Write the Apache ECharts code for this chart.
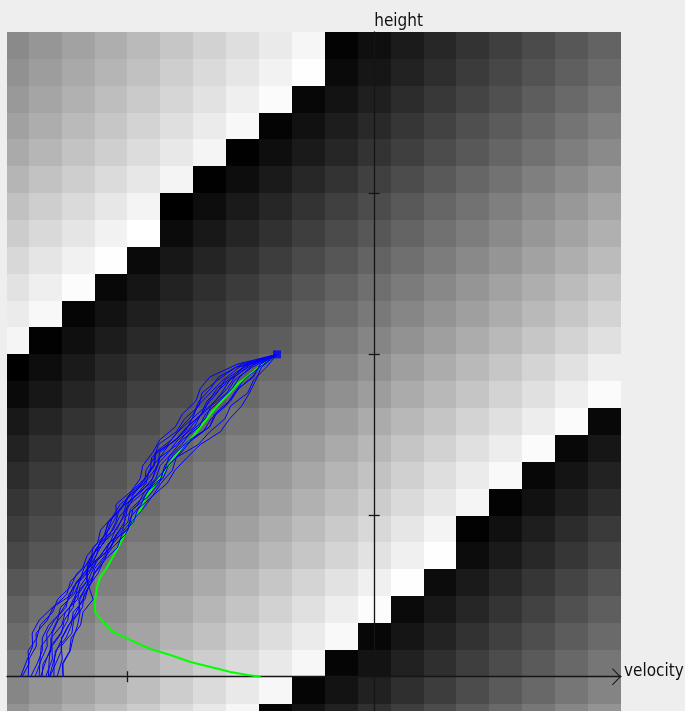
<!DOCTYPE html>
<html>
<head>
<meta charset="utf-8">
<script src="https://cdn.jsdelivr.net/npm/echarts@6/dist/echarts.min.js"></script>
<style>
  html, body { margin: 0; padding: 0; background: #eeeeee; }
  #chart { width: 685px; height: 711px; }
</style>
</head>
<body>
<div id="chart"></div>
<script>
// Cell centres of the value grid (velocity across, height down the page)
const velocityBins = [-1.4667, -1.3333, -1.2, -1.0667, -0.9333, -0.8, -0.6667, -0.5333, -0.4, -0.2667,
  -0.1333, 0, 0.1333, 0.2667, 0.4, 0.5333, 0.6667, 0.8, 0.9333];
const heightBins = [3.9167, 3.75, 3.5833, 3.4167, 3.25, 3.0833, 2.9167, 2.75, 2.5833, 2.4167, 2.25, 2.0833,
  1.9167, 1.75, 1.5833, 1.4167, 1.25, 1.0833, 0.9167, 0.75, 0.5833, 0.4167, 0.25, 0.0833, -0.0833, -0.25];

// Grey level (0 black .. 255 white) of every cell, one row per height bin
const levels = [
  [138, 150, 162, 174, 186, 198, 210, 222, 234, 246, 3, 15, 27, 39, 51, 63, 75, 87, 99],
  [145, 157, 169, 181, 193, 206, 218, 230, 242, 254, 10, 22, 34, 46, 59, 71, 83, 95, 107],
  [153, 165, 177, 190, 202, 214, 226, 239, 251, 7, 19, 31, 44, 56, 68, 80, 93, 105, 117],
  [161, 173, 186, 198, 211, 223, 235, 248, 4, 17, 29, 41, 54, 66, 79, 91, 103, 116, 128],
  [170, 182, 195, 207, 220, 232, 245, 1, 14, 26, 38, 51, 63, 76, 88, 101, 113, 126, 138],
  [181, 194, 206, 219, 231, 244, 1, 13, 26, 39, 51, 64, 76, 89, 102, 114, 127, 139, 152],
  [193, 206, 218, 231, 244, 0, 13, 26, 38, 51, 64, 76, 89, 102, 114, 127, 140, 152, 165],
  [204, 217, 229, 242, 255, 11, 24, 37, 49, 62, 75, 87, 100, 113, 125, 138, 151, 163, 176],
  [216, 229, 241, 254, 10, 23, 36, 48, 61, 74, 86, 99, 111, 124, 137, 149, 162, 174, 187],
  [226, 239, 252, 8, 21, 34, 47, 59, 72, 85, 98, 111, 123, 136, 149, 162, 174, 187, 200],
  [235, 248, 5, 18, 31, 43, 56, 69, 82, 95, 108, 121, 134, 147, 159, 172, 185, 198, 211],
  [245, 2, 15, 28, 41, 54, 67, 80, 93, 107, 120, 133, 146, 159, 172, 185, 198, 211, 224],
  [0, 13, 26, 40, 53, 66, 79, 93, 106, 119, 132, 145, 159, 172, 185, 198, 212, 225, 238],
  [10, 23, 37, 50, 64, 77, 90, 104, 117, 131, 144, 157, 171, 184, 197, 211, 224, 238, 251],
  [24, 37, 51, 64, 77, 91, 104, 117, 131, 144, 157, 171, 184, 197, 211, 224, 237, 251, 8],
  [34, 48, 61, 75, 88, 102, 115, 129, 142, 156, 170, 183, 197, 210, 224, 237, 251, 8, 22],
  [44, 58, 71, 85, 99, 112, 126, 140, 153, 167, 181, 194, 208, 222, 235, 249, 7, 20, 34],
  [53, 67, 80, 94, 108, 122, 135, 149, 163, 177, 190, 204, 218, 231, 245, 3, 17, 30, 44],
  [62, 76, 90, 104, 118, 132, 146, 160, 174, 188, 202, 216, 230, 244, 2, 16, 30, 44, 58],
  [72, 86, 100, 114, 128, 142, 156, 170, 184, 198, 212, 226, 240, 254, 12, 26, 40, 54, 68],
  [86, 100, 114, 128, 142, 156, 170, 184, 198, 212, 226, 240, 254, 12, 26, 40, 54, 68, 82],
  [98, 112, 126, 140, 154, 168, 182, 196, 210, 224, 238, 252, 10, 24, 38, 52, 66, 80, 94],
  [108, 122, 136, 150, 164, 179, 193, 207, 221, 235, 249, 7, 21, 35, 50, 64, 78, 92, 106],
  [120, 134, 148, 162, 176, 191, 205, 219, 233, 247, 5, 19, 33, 47, 62, 76, 90, 104, 118],
  [134, 148, 162, 176, 190, 205, 219, 233, 247, 5, 19, 33, 47, 61, 76, 90, 104, 118, 132],
  [146, 160, 175, 189, 203, 218, 232, 246, 5, 19, 33, 48, 62, 76, 91, 105, 119, 134, 148]
];

// Tick positions on the two axes
const velocityTicks = [-1];
const heightTicks = [1, 2, 3];

// Start state shared by every run
const startState = [-0.394, 2.0];

// Sampled runs, [velocity, height]
const run1 = [[-1.427, 0], [-1.399, 0.08], [-1.403, 0.16], [-1.367, 0.24], [-1.353, 0.32], [-1.303, 0.40], [-1.283, 0.48], [-1.229, 0.56], [-1.205, 0.64], [-1.148, 0.72], [-1.140, 0.80], [-1.090, 0.88], [-1.079, 0.96], [-1.029, 1.04], [-0.995, 1.12], [-0.930, 1.20], [-0.925, 1.28], [-0.891, 1.36], [-0.875, 1.44], [-0.802, 1.52], [-0.768, 1.60], [-0.710, 1.68], [-0.698, 1.76], [-0.635, 1.84], [-0.560, 1.92], [-0.394, 2.0]];
const run2 = [[-1.402, 0], [-1.399, 0.11], [-1.369, 0.19], [-1.370, 0.27], [-1.325, 0.35], [-1.301, 0.43], [-1.246, 0.51], [-1.231, 0.59], [-1.182, 0.67], [-1.164, 0.75], [-1.121, 0.83], [-1.109, 0.91], [-1.061, 0.99], [-1.029, 1.07], [-0.964, 1.15], [-0.930, 1.23], [-0.894, 1.31], [-0.888, 1.39], [-0.822, 1.47], [-0.781, 1.55], [-0.733, 1.63], [-0.710, 1.71], [-0.662, 1.79], [-0.631, 1.86], [-0.537, 1.94], [-0.394, 2.0]];
const run3 = [[-1.392, 0], [-1.366, 0.08], [-1.345, 0.16], [-1.345, 0.24], [-1.319, 0.32], [-1.269, 0.40], [-1.239, 0.48], [-1.219, 0.56], [-1.168, 0.64], [-1.150, 0.72], [-1.125, 0.80], [-1.072, 0.88], [-1.047, 0.96], [-1.033, 1.04], [-0.968, 1.12], [-0.924, 1.20], [-0.912, 1.28], [-0.869, 1.36], [-0.831, 1.44], [-0.766, 1.52], [-0.738, 1.60], [-0.681, 1.68], [-0.637, 1.76], [-0.605, 1.84], [-0.530, 1.92], [-0.394, 2.0]];
const run4 = [[-1.358, 0], [-1.354, 0.11], [-1.349, 0.19], [-1.309, 0.27], [-1.284, 0.35], [-1.271, 0.43], [-1.217, 0.51], [-1.194, 0.59], [-1.177, 0.67], [-1.146, 0.75], [-1.095, 0.83], [-1.079, 0.91], [-1.060, 0.99], [-1.010, 1.07], [-0.984, 1.15], [-0.928, 1.23], [-0.891, 1.31], [-0.884, 1.39], [-0.801, 1.47], [-0.756, 1.55], [-0.701, 1.63], [-0.678, 1.71], [-0.622, 1.79], [-0.571, 1.86], [-0.519, 1.94], [-0.394, 2.0]];
const run5 = [[-1.346, 0], [-1.342, 0.08], [-1.310, 0.16], [-1.310, 0.24], [-1.266, 0.32], [-1.252, 0.40], [-1.202, 0.48], [-1.192, 0.56], [-1.156, 0.64], [-1.125, 0.72], [-1.069, 0.80], [-1.047, 0.88], [-0.998, 0.96], [-0.988, 1.04], [-0.930, 1.12], [-0.897, 1.20], [-0.850, 1.28], [-0.832, 1.36], [-0.780, 1.44], [-0.743, 1.52], [-0.685, 1.60], [-0.661, 1.68], [-0.597, 1.76], [-0.566, 1.84], [-0.495, 1.92], [-0.394, 2.0]];
const run6 = [[-1.320, 0], [-1.317, 0.11], [-1.310, 0.19], [-1.271, 0.27], [-1.242, 0.35], [-1.234, 0.43], [-1.200, 0.51], [-1.165, 0.59], [-1.162, 0.67], [-1.111, 0.75], [-1.070, 0.83], [-1.050, 0.91], [-1.015, 0.99], [-0.997, 1.07], [-0.969, 1.15], [-0.915, 1.23], [-0.877, 1.31], [-0.870, 1.39], [-0.805, 1.47], [-0.759, 1.55], [-0.696, 1.63], [-0.671, 1.71], [-0.636, 1.79], [-0.575, 1.86], [-0.510, 1.94], [-0.394, 2.0]];
const run7 = [[-1.314, 0], [-1.291, 0.08], [-1.268, 0.16], [-1.267, 0.24], [-1.239, 0.32], [-1.198, 0.40], [-1.192, 0.48], [-1.166, 0.56], [-1.133, 0.64], [-1.093, 0.72], [-1.074, 0.80], [-1.029, 0.88], [-0.988, 0.96], [-0.978, 1.04], [-0.914, 1.12], [-0.872, 1.20], [-0.853, 1.28], [-0.804, 1.36], [-0.763, 1.44], [-0.693, 1.52], [-0.661, 1.60], [-0.602, 1.68], [-0.567, 1.76], [-0.529, 1.84], [-0.465, 1.92], [-0.394, 2.0]];
const run8 = [[-1.285, 0], [-1.264, 0.11], [-1.268, 0.19], [-1.225, 0.27], [-1.218, 0.35], [-1.182, 0.43], [-1.176, 0.51], [-1.143, 0.59], [-1.133, 0.67], [-1.092, 0.75], [-1.074, 0.83], [-1.019, 0.91], [-1.008, 0.99], [-0.958, 1.07], [-0.929, 1.15], [-0.864, 1.23], [-0.849, 1.31], [-0.805, 1.39], [-0.747, 1.47], [-0.667, 1.55], [-0.640, 1.63], [-0.582, 1.71], [-0.549, 1.79], [-0.493, 1.86], [-0.460, 1.94], [-0.394, 2.0]];
const run9 = [[-1.260, 0], [-1.264, 0.08], [-1.234, 0.16], [-1.228, 0.24], [-1.190, 0.32], [-1.180, 0.40], [-1.139, 0.48], [-1.157, 0.56], [-1.120, 0.64], [-1.096, 0.72], [-1.041, 0.80], [-1.023, 0.88], [-0.975, 0.96], [-0.958, 1.04], [-0.898, 1.12], [-0.864, 1.20], [-0.818, 1.28], [-0.802, 1.36], [-0.713, 1.44], [-0.666, 1.52], [-0.605, 1.60], [-0.582, 1.68], [-0.513, 1.76], [-0.489, 1.84], [-0.437, 1.92], [-0.394, 2.0]];
const run10 = [[-1.433, 0], [-1.405, 0.11], [-1.384, 0.19], [-1.386, 0.27], [-1.358, 0.35], [-1.304, 0.43], [-1.224, 0.51], [-1.207, 0.59], [-1.158, 0.67], [-1.139, 0.75], [-1.112, 0.83], [-1.058, 0.91], [-1.033, 0.99], [-0.991, 1.07], [-0.929, 1.15], [-0.885, 1.23], [-0.867, 1.31], [-0.818, 1.39], [-0.777, 1.47], [-0.709, 1.55], [-0.684, 1.63], [-0.627, 1.71], [-0.574, 1.79], [-0.545, 1.86], [-0.488, 1.94], [-0.394, 2.0]];
const run11 = [[-1.298, 0], [-1.297, 0.08], [-1.292, 0.16], [-1.249, 0.24], [-1.227, 0.32], [-1.220, 0.40], [-1.172, 0.48], [-1.158, 0.56], [-1.167, 0.64], [-1.157, 0.72], [-1.122, 0.80], [-1.094, 0.88], [-1.075, 0.96], [-1.025, 1.04], [-0.998, 1.12], [-0.942, 1.20], [-0.907, 1.28], [-0.902, 1.36], [-0.838, 1.44], [-0.795, 1.52], [-0.738, 1.60], [-0.715, 1.68], [-0.665, 1.76], [-0.612, 1.84], [-0.548, 1.92], [-0.394, 2.0]];
const run12 = [[-1.331, 0], [-1.304, 0.11], [-1.306, 0.19], [-1.267, 0.27], [-1.256, 0.35], [-1.220, 0.43], [-1.209, 0.51], [-1.166, 0.59], [-1.159, 0.67], [-1.109, 0.75], [-1.075, 0.83], [-0.999, 0.91], [-0.987, 0.99], [-0.944, 1.07], [-0.920, 1.15], [-0.856, 1.23], [-0.834, 1.31], [-0.782, 1.39], [-0.741, 1.47], [-0.667, 1.55], [-0.647, 1.63], [-0.588, 1.71], [-0.548, 1.79], [-0.489, 1.86], [-0.461, 1.94], [-0.394, 2.0]];
const run13 = [[-1.316, 0], [-1.302, 0.08], [-1.288, 0.16], [-1.264, 0.24], [-1.237, 0.32], [-1.208, 0.40], [-1.181, 0.48], [-1.155, 0.56], [-1.135, 0.64], [-1.101, 0.72], [-1.062, 0.80], [-1.009, 0.88], [-0.983, 0.96], [-0.938, 1.04], [-0.899, 1.12], [-0.839, 1.20], [-0.808, 1.28], [-0.758, 1.36], [-0.705, 1.44], [-0.623, 1.52], [-0.586, 1.60], [-0.537, 1.68], [-0.506, 1.76], [-0.480, 1.84], [-0.457, 1.92], [-0.394, 2.0]];
const run14 = [[-1.374, 0], [-1.348, 0.11], [-1.325, 0.19], [-1.327, 0.27], [-1.296, 0.35], [-1.249, 0.43], [-1.237, 0.51], [-1.202, 0.59], [-1.163, 0.67], [-1.126, 0.75], [-1.113, 0.83], [-1.077, 0.91], [-1.046, 0.99], [-1.046, 1.07], [-0.985, 1.15], [-0.948, 1.23], [-0.938, 1.31], [-0.898, 1.39], [-0.869, 1.47], [-0.806, 1.55], [-0.777, 1.63], [-0.723, 1.71], [-0.704, 1.79], [-0.666, 1.86], [-0.553, 1.94], [-0.394, 2.0]];
const run15 = [[-1.352, 0], [-1.328, 0.11], [-1.307, 0.19], [-1.305, 0.27], [-1.281, 0.35], [-1.235, 0.43], [-1.209, 0.51], [-1.195, 0.59], [-1.148, 0.67], [-1.128, 0.75], [-1.099, 0.83], [-1.044, 0.91], [-1.019, 0.99], [-1.005, 1.07], [-0.942, 1.15], [-0.898, 1.23], [-0.882, 1.31], [-0.835, 1.39], [-0.795, 1.47], [-0.728, 1.55], [-0.702, 1.63], [-0.645, 1.71], [-0.595, 1.79], [-0.565, 1.86], [-0.502, 1.94], [-0.394, 2.0]];
const run16 = [[-1.261, 0], [-1.261, 0.08], [-1.232, 0.16], [-1.220, 0.24], [-1.202, 0.32], [-1.192, 0.40], [-1.197, 0.48], [-1.167, 0.56], [-1.147, 0.64], [-1.123, 0.72], [-1.067, 0.80], [-1.045, 0.88], [-1.012, 0.96], [-1.000, 1.04], [-0.972, 1.12], [-0.907, 1.20], [-0.884, 1.28], [-0.868, 1.36], [-0.799, 1.44], [-0.757, 1.52], [-0.717, 1.60], [-0.662, 1.68], [-0.618, 1.76], [-0.586, 1.84], [-0.511, 1.92], [-0.394, 2.0]];

// Greedy path under the current value estimate
const greedyPath = [[-0.460, 0], [-0.513, 0.011], [-0.582, 0.029], [-0.663, 0.060], [-0.745, 0.091], [-0.826, 0.135], [-0.907, 0.172], [-0.989, 0.228], [-1.058, 0.277], [-1.098, 0.339], [-1.131, 0.401], [-1.131, 0.476], [-1.123, 0.556], [-1.110, 0.618], [-1.082, 0.680], [-1.050, 0.767], [-1.001, 0.910], [-0.948, 1.034], [-0.920, 1.127], [-0.895, 1.177], [-0.854, 1.264], [-0.813, 1.357], [-0.736, 1.487], [-0.651, 1.654], [-0.550, 1.822], [-0.521, 1.853], [-0.452, 1.940], [-0.394, 2.0]];

const runs = [run1, run2, run3, run4, run5, run6, run7, run8, run9, run10, run11, run12, run13, run14, run15, run16];

// Visible window of the state space
const V_MIN = -1.488, V_MAX = 1.0;
const H_MIN = -0.2128, H_MAX = 4.0;
const CELL_W = 2 / 15, CELL_H = 1 / 6;

const cells = [];
heightBins.forEach((h, r) => {
  velocityBins.forEach((v, c) => cells.push([v, h, levels[r][c]]));
});

const ink = '#151515';
const labelFont = '"DejaVu Sans Condensed", "Liberation Sans", sans-serif';
const chevron = 'path://M0,8.3L8.5,0L17,8.3L16.3,9L8.5,1.4L0.7,9Z';
const tickStyle = { color: ink, width: 1.3 };

function baseAxis(extra) {
  return Object.assign({
    type: 'value', z: 3, splitLine: { show: false }, axisLabel: { show: false },
    axisPointer: { show: false }
  }, extra);
}

const chart = echarts.init(document.getElementById('chart'), null, { renderer: 'canvas' });

chart.setOption({
  backgroundColor: '#eeeeee',
  animation: false,
  grid: { left: 7, top: 32, right: 64, bottom: 0, containLabel: false, outerBoundsMode: 'none' },
  visualMap: {
    type: 'continuous', show: false, seriesIndex: 0, dimension: 2,
    min: 0, max: 255, inRange: { color: ['#000000', '#ffffff'] }
  },
  xAxis: [
    baseAxis({
      min: V_MIN, max: V_MAX, position: 'bottom',
      axisLine: {
        onZero: true, onZeroAxisIndex: 0, symbol: ['none', chevron], symbolSize: [17, 9],
        symbolOffset: [0, -4.5], lineStyle: { color: ink, width: 1.3 }
      },
      axisTick: { show: true, customValues: velocityTicks, length: 5.5, lineStyle: tickStyle },
      name: 'velocity', nameLocation: 'end', nameGap: 3,
      nameTextStyle: { fontFamily: labelFont, fontSize: 17, color: '#111', align: 'left', verticalAlign: 'bottom', lineHeight: 11 }
    }),
    baseAxis({
      min: V_MIN, max: V_MAX, position: 'top',
      axisLine: { show: false, onZero: true, onZeroAxisIndex: 0 },
      axisTick: { show: true, customValues: velocityTicks, length: 5.5, lineStyle: tickStyle }
    })
  ],
  yAxis: [
    baseAxis({
      min: H_MIN, max: H_MAX, position: 'left',
      axisLine: {
        onZero: true, onZeroAxisIndex: 0, symbol: ['none', chevron], symbolSize: [17, 9],
        symbolOffset: [0, -4.5], lineStyle: { color: ink, width: 1.3 }
      },
      axisTick: { show: true, customValues: heightTicks, length: 5.5, lineStyle: tickStyle },
      name: 'height', nameLocation: 'end', nameGap: 10,
      nameTextStyle: { fontFamily: labelFont, fontSize: 17, color: '#111', align: 'left', verticalAlign: 'middle' }
    }),
    baseAxis({
      min: H_MIN, max: H_MAX, position: 'right',
      axisLine: { show: false, onZero: true, onZeroAxisIndex: 0 },
      axisTick: { show: true, customValues: heightTicks, length: 5.5, lineStyle: tickStyle }
    })
  ],
  series: [
    {
      type: 'custom', z: 1, silent: true,
      data: cells,
      encode: { x: 0, y: 1 },
      renderItem(params, api) {
        const v = api.value(0), h = api.value(1);
        const a = api.coord([v - CELL_W / 2, h + CELL_H / 2]);
        const b = api.coord([v + CELL_W / 2, h - CELL_H / 2]);
        const x0 = Math.round(a[0]), y0 = Math.round(a[1]);
        const shape = echarts.graphic.clipRectByRect(
          { x: x0, y: y0, width: Math.round(b[0]) - x0, height: Math.round(b[1]) - y0 },
          { x: params.coordSys.x, y: params.coordSys.y, width: params.coordSys.width, height: params.coordSys.height }
        );
        if (!shape) return;
        return { type: 'rect', shape: shape, style: { fill: api.visual('color') } };
      }
    },
    {
      type: 'line', z: 4, silent: true, data: greedyPath, showSymbol: false, symbol: 'none',
      lineStyle: { color: '#00ff00', width: 2 }
    }
  ].concat(runs.map(run => ({
    type: 'line', z: 5, silent: true, data: run, showSymbol: false, symbol: 'none',
    lineStyle: { color: '#0000ff', width: 1 }
  }))).concat([{
    type: 'scatter', z: 6, silent: true, data: [startState],
    symbol: 'rect', symbolSize: 8, itemStyle: { color: '#0000ff' }
  }])
});
</script>
</body>
</html>
